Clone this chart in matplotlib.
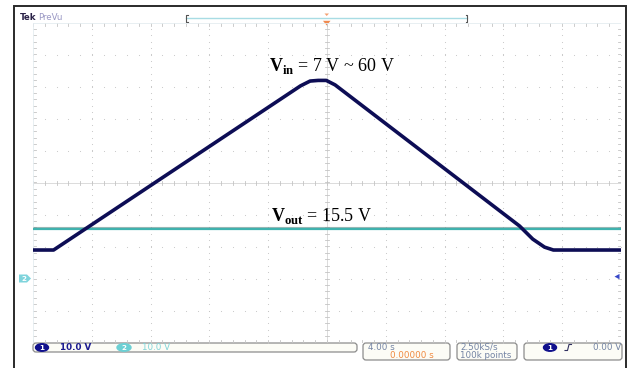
import matplotlib
matplotlib.use("Agg")
import matplotlib.pyplot as plt
import matplotlib.transforms as mtransforms
from matplotlib.patches import FancyBboxPatch, Ellipse, Polygon
import numpy as np

plt.rcParams['mathtext.fontset'] = 'custom'
plt.rcParams['mathtext.rm'] = 'Liberation Serif'
plt.rcParams['mathtext.bf'] = 'Liberation Serif:bold'

# ---- acquisition data -------------------------------------------------
# Channel 1: input voltage sweep (time in s, volts)
vin_time = [-20.0, -18.6, -1.8, -1.15, -0.6, -0.05, 0.55, 13.1, 14.0, 14.8, 15.4, 20.0]
vin_volts = [7.0, 7.0, 58.3, 59.8, 60.0, 60.0, 58.6, 14.5, 10.4, 7.9, 7.0, 7.0]
# Channel 2: regulated output voltage
vout_time = [-20.0, 20.0]
vout_volts = [15.5, 15.5]

# scope settings
time_per_div = 4.0
ch1_scale, ch2_scale = 10.0, 10.0
ch1_offset_div, ch2_offset_div = -2.81, -3.0
n_hdiv, n_vdiv = 10, 10

status_ch1 = "10.0 V"
status_ch2 = "10.0 V"
status_time = "4.00 s"
status_delay = "0.00000 s"
status_rate = "2.50kS/s"
status_points = "100k points"
status_trig = "0.00 V"

W, H = 634, 368
fig = plt.figure(figsize=(W / 100, H / 100), dpi=100)
fig.patch.set_facecolor('white')

# pixel-space overlay for the instrument frame and readouts
ov = fig.add_axes([0, 0, 1, 1])
ov.set_xlim(0, W)
ov.set_ylim(H, 0)
ov.axis('off')

# graticule geometry (pixels)
gl, gr, gt, gb = 33.0, 621.0, 22.5, 342.5
rect = [gl / W, 1 - gb / H, (gr - gl) / W, (gb - gt) / H]

gx = fig.add_axes(rect)
half_t = time_per_div * n_hdiv / 2
gx.set_xlim(-half_t, half_t)
gx.set_ylim(-n_vdiv / 2, n_vdiv / 2)
gx.axis('off')
gx.patch.set_alpha(0)

px_t = 2 * half_t / (gr - gl)
px_d = n_vdiv / (gb - gt)
gcol = '#c4c4c4'

# dotted graticule lines (dots at minor divisions)
for k in range(1, n_hdiv):
    t = -half_t + k * time_per_div
    if abs(t) < 1e-9:
        continue
    ys = np.arange(-n_vdiv / 2, n_vdiv / 2 + 1e-9, 0.2)
    gx.scatter(np.full_like(ys, t), ys, s=0.6, color=gcol, linewidths=0)
for k in range(1, n_vdiv):
    y = -n_vdiv / 2 + k
    if y == 0:
        continue
    ts = np.arange(-half_t, half_t + 1e-9, time_per_div / 5)
    gx.scatter(ts, np.full_like(ts, y), s=0.6, color=gcol, linewidths=0)

# centre cross with minor ticks, edge ticks
gx.axvline(0, color='#d6d6d6', lw=0.6)
gx.axhline(0, color='#d6d6d6', lw=0.6)
for y in np.arange(-n_vdiv / 2, n_vdiv / 2 + 1e-9, 0.2):
    gx.plot([-2 * px_t, 2 * px_t], [y, y], color=gcol, lw=0.6)
    gx.plot([-half_t, -half_t + 3 * px_t], [y, y], color=gcol, lw=0.6)
    gx.plot([half_t - 3 * px_t, half_t], [y, y], color=gcol, lw=0.6)
for t in np.arange(-half_t, half_t + 1e-9, time_per_div / 5):
    gx.plot([t, t], [-2 * px_d, 2 * px_d], color=gcol, lw=0.6)
    gx.plot([t, t], [n_vdiv / 2 - 3 * px_d, n_vdiv / 2], color=gcol, lw=0.6)
    gx.plot([t, t], [-n_vdiv / 2, -n_vdiv / 2 + 3 * px_d], color=gcol, lw=0.6)
gx.plot([-half_t, -half_t], [-5, 5], color='#e4ecf0', lw=0.6)
gx.plot([half_t, half_t], [-5, 5], color='#e4ecf0', lw=0.6)
gx.plot([-half_t, half_t], [5, 5], color='#e4ecf0', lw=0.6)

# channel axes in volts
def channel_axes(scale, offset_div):
    a = fig.add_axes(rect)
    a.set_xlim(-half_t, half_t)
    a.set_ylim((-n_vdiv / 2 - offset_div) * scale, (n_vdiv / 2 - offset_div) * scale)
    a.axis('off')
    a.patch.set_alpha(0)
    return a

ax2 = channel_axes(ch2_scale, ch2_offset_div)
ax1 = channel_axes(ch1_scale, ch1_offset_div)

# channel 2 trace (teal with darker speckle band above)
shift_up = mtransforms.ScaledTranslation(0, 1.6 / 72, fig.dpi_scale_trans)
ax2.plot(vout_time, vout_volts, color='#7a9a98', lw=0.8, alpha=0.7,
         transform=ax2.transData + shift_up, solid_capstyle='butt')
ax2.plot(vout_time, vout_volts, color='#3fb2ae', lw=1.6, solid_capstyle='butt')

# channel 1 trace
ax1.plot(vin_time, vin_volts, color='#0d0d55', lw=2.6, solid_joinstyle='round')

# annotations
ax1.text(-3.95, 60 + 2.9, r'$\mathbf{V}_{\mathbf{in}}$ = 7 V ~ 60 V',
         fontsize=13, family='Liberation Serif', ha='left', va='baseline', color='black')
ax2.text(-3.8, 15.5 + 2.6, r'$\mathbf{V}_{\mathbf{out}}$ = 15.5 V',
         fontsize=13, family='Liberation Serif', ha='left', va='baseline', color='black')

# outer instrument frame
ov.plot([14, 14, 626, 626], [H, 6, 6, H], color='#2a2a2a', lw=1.4, solid_joinstyle='miter')

# header
ov.text(19.5, 20, 'Tek', fontsize=6.2, fontweight='bold', color='#2a2248', ha='left', va='baseline')
ov.text(38.5, 20, 'PreVu', fontsize=6.2, color='#9a98c4', ha='left', va='baseline')
ov.plot([186, 467], [18.3, 18.3], color='#a8dce4', lw=1.0)
for xb, d in [(186, 1), (467, -1)]:
    ov.plot([xb + 1.5 * d, xb, xb, xb + 1.5 * d], [14.8, 14.8, 21.5, 21.5], color='#555555', lw=0.8)
ov.add_patch(Polygon([[324.5, 13.5], [329, 13.5], [326.7, 16]], closed=True, color='#f4a070', lw=0))
ov.add_patch(Polygon([[323, 20.8], [330.5, 20.8], [326.7, 25.5]], closed=True, color='#f08a50', lw=0))

# channel ground / trigger markers
y_ch2 = gt + (n_vdiv / 2 - ch2_offset_div) / px_d
ov.add_patch(Polygon([[19, y_ch2 - 4], [27, y_ch2 - 4], [31, y_ch2], [27, y_ch2 + 4], [19, y_ch2 + 4]],
                     closed=True, color='#7fd4dc', lw=0))
ov.text(23.5, y_ch2 + 0.3, '2', fontsize=5.2, color='white', ha='center', va='center', fontweight='bold')
y_ch1 = gt + (n_vdiv / 2 - ch1_offset_div) / px_d
ov.add_patch(Polygon([[614.5, y_ch1 + 4.2], [619.5, y_ch1 + 1.5], [619.5, y_ch1 + 6.9]],
                     closed=True, color='#3848c8', lw=0))

# status bar
def box(x0, y0, x1, y1):
    ov.add_patch(FancyBboxPatch((x0, y0), x1 - x0, y1 - y0,
                                boxstyle='round,pad=0,rounding_size=3',
                                fc='#fcfcf6', ec='#8c8c8c', lw=0.9))

fs = 6.3
box(33, 343, 357, 352)
ov.add_patch(Ellipse((42, 347.5), 13, 7.5, color='#10108c'))
ov.text(42, 347.8, '1', fontsize=5.2, color='white', ha='center', va='center', fontweight='bold')
ov.text(60, 347.8, status_ch1, fontsize=fs, color='#1c1c90', ha='left', va='center', fontweight='bold')
ov.add_patch(Ellipse((124, 347.5), 14, 7.5, color='#6cd0d4'))
ov.text(124, 347.8, '2', fontsize=5.2, color='white', ha='center', va='center', fontweight='bold')
ov.text(142, 347.8, status_ch2, fontsize=fs, color='#80d4d8', ha='left', va='center')

box(363, 343, 450, 360)
ov.text(368, 347.5, status_time, fontsize=fs, color='#7484a4', ha='left', va='center')
ov.text(390, 356, status_delay, fontsize=fs, color='#f08a40', ha='left', va='center')

box(457, 343, 517, 360)
ov.text(460, 347.5, status_rate, fontsize=fs, color='#7484a4', ha='left', va='center')
ov.text(460, 356, status_points, fontsize=fs, color='#7484a4', ha='left', va='center')

box(524, 343, 622, 360)
ov.add_patch(Ellipse((550, 347.5), 13, 7.5, color='#10108c'))
ov.text(550, 347.8, '1', fontsize=5.2, color='white', ha='center', va='center', fontweight='bold')
ov.plot([565, 567.5, 569, 571.5], [350.5, 350.5, 344.5, 344.5], color='#303060', lw=0.8)
ov.text(621, 347.5, status_trig, fontsize=fs, color='#7484a4', ha='right', va='center')

fig.savefig('out.png', dpi=100, facecolor='white')
